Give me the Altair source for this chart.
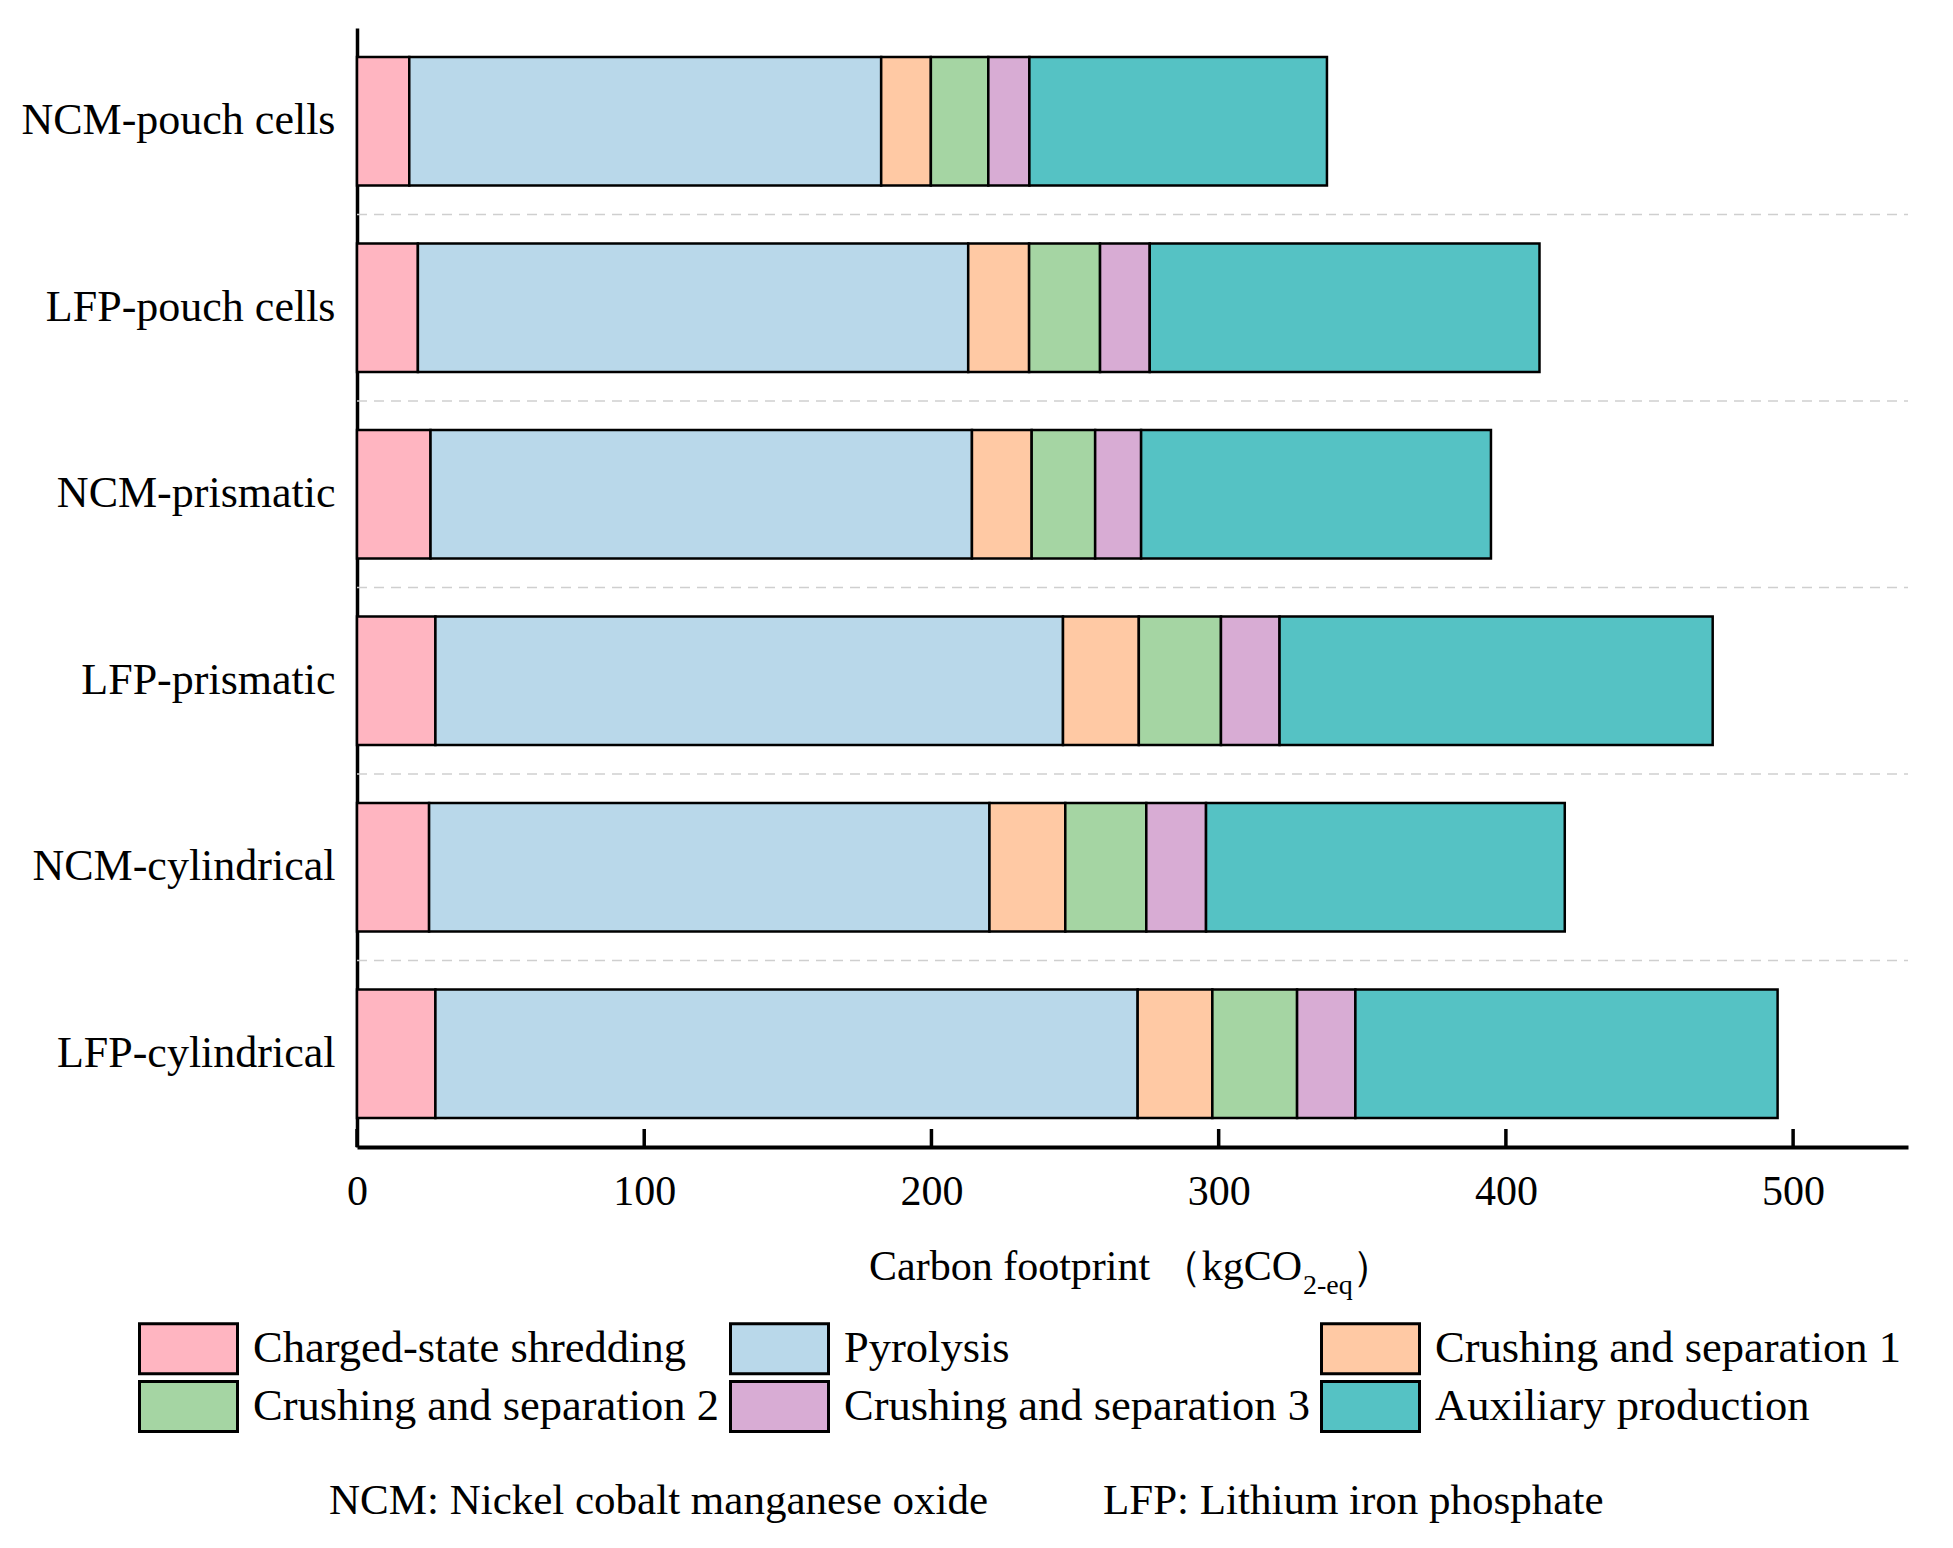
import altair as alt
import pandas as pd

# battery types, top to bottom
CATEGORIES = [
    "NCM-pouch cells",
    "LFP-pouch cells",
    "NCM-prismatic",
    "LFP-prismatic",
    "NCM-cylindrical",
    "LFP-cylindrical",
]

STAGES = [
    "Charged-state shredding",
    "Pyrolysis",
    "Crushing and separation 1",
    "Crushing and separation 2",
    "Crushing and separation 3",
    "Auxiliary production",
]

COLORS = ["#FFB5C1", "#B9D8EA", "#FFC9A4", "#A5D5A3", "#D8ACD4", "#55C2C4"]

# carbon footprint per stage (kgCO2-eq), one value per battery type
shredding = [18.2, 21.2, 25.6, 27.3, 25.1, 27.3]
pyrolysis = [164.3, 191.6, 188.5, 218.5, 195.1, 244.5]
crushing_1 = [17.3, 21.2, 20.8, 26.4, 26.4, 26.0]
crushing_2 = [20.0, 24.7, 22.1, 28.6, 28.2, 29.5]
crushing_3 = [14.3, 17.3, 16.0, 20.4, 20.8, 20.3]
auxiliary = [103.6, 135.7, 121.8, 150.8, 124.9, 147.0]

X_TICKS = [0, 100, 200, 300, 400, 500]
X_MAX = 540

TITLE_PARTS = ["Carbon footprint", "（kgCO", "2-eq", "）"]
FOOTNOTES = ["NCM: Nickel cobalt manganese oxide", "LFP: Lithium iron phosphate"]

FONT = "Liberation Serif"
W, H = 1551, 1119

series = [shredding, pyrolysis, crushing_1, crushing_2, crushing_3, auxiliary]
records = []
for idx, (stage, values) in enumerate(zip(STAGES, series)):
    for battery, v in zip(CATEGORIES, values):
        records.append({"battery": battery, "stage": stage, "value": v, "idx": idx})
df = pd.DataFrame(records)

separators = alt.Chart(
    pd.DataFrame({"pos": list(range(1, len(CATEGORIES)))})
).mark_rule(color="#cfcfcf", strokeWidth=1.5, strokeDash=[10, 7]).encode(
    y=alt.Y("pos:Q", scale=alt.Scale(domain=[0, len(CATEGORIES)]), axis=None),
    x=alt.value(0),
    x2=alt.value(W),
)

bars = alt.Chart(df).mark_bar(stroke="black", strokeWidth=2.5).encode(
    x=alt.X(
        "value:Q",
        stack="zero",
        scale=alt.Scale(domain=[0, X_MAX], nice=False, zero=True),
        axis=alt.Axis(
            values=X_TICKS, title=None, grid=False, ticks=False, tickSize=0,
            labelPadding=24, labelFont=FONT, labelFontSize=42, labelColor="black",
            labelFlush=False, domainWidth=4, domainColor="black",
        ),
    ),
    y=alt.Y(
        "battery:N",
        sort=CATEGORIES,
        scale=alt.Scale(paddingInner=0.31, paddingOuter=0.155),
        axis=alt.Axis(
            title=None, ticks=False, labelPadding=22, labelFont=FONT,
            labelFontSize=44, labelColor="black", labelLimit=1000,
            domainWidth=3.5, domainColor="black",
        ),
    ),
    color=alt.Color(
        "stage:N",
        sort=STAGES,
        scale=alt.Scale(domain=STAGES, range=COLORS),
        legend=alt.Legend(
            title=None, orient="none", legendX=-195, legendY=1294, columns=3,
            direction="horizontal",
            symbolType="M-1.96,-1H1.96V1H-1.96Z", symbolSize=2500,
            symbolStrokeColor="black", symbolStrokeWidth=3, symbolOpacity=1,
            labelFont=FONT, labelFontSize=44.5, labelColor="black", labelLimit=1000,
            labelOffset=38, columnPadding=5, rowPadding=-7,
        ),
    ),
    order=alt.Order("idx:Q"),
)

ticks = alt.Chart(pd.DataFrame({"tick": X_TICKS})).mark_rule(
    color="black", strokeWidth=3.5
).encode(x="tick:Q", y=alt.value(H - 18), y2=alt.value(H))


def label(text, x, y, size, align="left"):
    return alt.Chart(pd.DataFrame({"t": [text]})).mark_text(
        font=FONT, fontSize=size, color="black", align=align, baseline="alphabetic"
    ).encode(text="t:N", x=alt.value(x), y=alt.value(y))


title_a = label(TITLE_PARTS[0], 512, 1252, 42)
title_b = label(TITLE_PARTS[1], 945, 1252, 42, align="right")
title_c = label(TITLE_PARTS[2], 946, 1266, 28)
title_d = label(TITLE_PARTS[3], 995, 1252, 42)

note_ncm = label(FOOTNOTES[0], -28, 1486, 43)
note_lfp = label(FOOTNOTES[1], 746, 1486, 43)

chart = alt.layer(
    separators, bars, ticks, title_a, title_b, title_c, title_d, note_ncm, note_lfp
).resolve_scale(
    y="independent"
).properties(
    width=W,
    height=H,
    autosize="none",
    padding={"left": 349, "top": 20, "right": 37, "bottom": 393},
).configure_view(stroke=None)

chart.save("out.html", embed_options={"renderer": "svg", "actions": False})
